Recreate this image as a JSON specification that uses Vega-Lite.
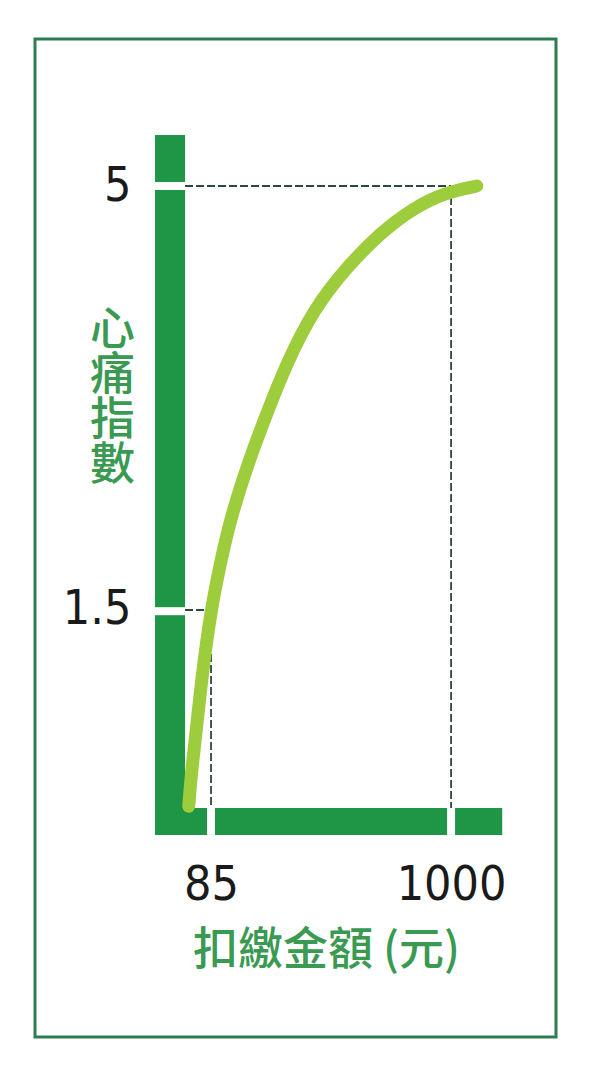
{
  "$schema": "https://vega.github.io/schema/vega-lite/v6.json",
  "width": 521,
  "height": 998,
  "autosize": "none",
  "padding": {"left": 35, "top": 39, "right": 44, "bottom": 35},
  "background": "white",
  "datasets": {
    "curve": [
      {"amount": 0, "pain": -0.12},
      {"amount": 11, "pain": 0.18},
      {"amount": 33, "pain": 0.59},
      {"amount": 53, "pain": 1.0},
      {"amount": 85, "pain": 1.5},
      {"amount": 117, "pain": 1.85},
      {"amount": 157, "pain": 2.24},
      {"amount": 227, "pain": 2.72},
      {"amount": 297, "pain": 3.12},
      {"amount": 374, "pain": 3.54},
      {"amount": 475, "pain": 3.98},
      {"amount": 602, "pain": 4.33},
      {"amount": 729, "pain": 4.61},
      {"amount": 856, "pain": 4.82},
      {"amount": 984, "pain": 4.95},
      {"amount": 1098, "pain": 5.0}
    ],
    "bars": [
      {"amount": -128.5, "amount2": -14.1, "pain": -0.357, "pain2": 5.42},
      {"amount": -128.5, "amount2": 1195, "pain": -0.357, "pain2": -0.134}
    ],
    "gaps": [
      {"amount": -128.5, "amount2": -14.1, "pain": 5, "pain2": 5},
      {"amount": -128.5, "amount2": -14.1, "pain": 1.49, "pain2": 1.49},
      {"amount": 85, "amount2": 85, "pain": -0.134, "pain2": -0.357},
      {"amount": 1000, "amount2": 1000, "pain": -0.134, "pain2": -0.357}
    ],
    "guides": [
      {"amount": -14.1, "amount2": 1000, "pain": 5, "pain2": 5},
      {"amount": 1000, "amount2": 1000, "pain": 5, "pain2": -0.134},
      {"amount": -14.1, "amount2": 85, "pain": 1.5, "pain2": 1.5},
      {"amount": 85, "amount2": 85, "pain": 1.5, "pain2": -0.134}
    ]
  },
  "layer": [
    {
      "data": {"name": "bars"},
      "mark": {"type": "rect", "color": "#1f9646"},
      "encoding": {
        "x": {"field": "amount", "type": "quantitative"},
        "x2": {"field": "amount2"},
        "y": {"field": "pain", "type": "quantitative"},
        "y2": {"field": "pain2"}
      }
    },
    {
      "data": {"name": "gaps"},
      "mark": {"type": "rule", "color": "white", "strokeWidth": 8},
      "encoding": {
        "x": {"field": "amount", "type": "quantitative"},
        "x2": {"field": "amount2"},
        "y": {"field": "pain", "type": "quantitative"},
        "y2": {"field": "pain2"}
      }
    },
    {
      "data": {"name": "guides"},
      "mark": {"type": "rule", "color": "#2c4a3a", "strokeWidth": 1.8, "strokeDash": [8, 3]},
      "encoding": {
        "x": {"field": "amount", "type": "quantitative"},
        "x2": {"field": "amount2"},
        "y": {"field": "pain", "type": "quantitative"},
        "y2": {"field": "pain2"}
      }
    },
    {
      "data": {"name": "curve"},
      "mark": {"type": "line", "color": "#9dcc3c", "strokeWidth": 13, "strokeCap": "round", "interpolate": "basis"},
      "encoding": {
        "x": {
          "field": "amount",
          "type": "quantitative",
          "scale": {"domain": [-586, 1400], "nice": false, "zero": false},
          "axis": {
            "values": [85, 1000],
            "labelExpr": "datum.value + ''",
            "offset": -215.5,
            "domain": false,
            "ticks": false,
            "tickSize": 0,
            "grid": false,
            "labelPadding": 40,
            "labelFont": "'Liberation Sans Narrow', 'DejaVu Sans Condensed', sans-serif",
            "labelFontSize": 48,
            "labelColor": "#1a1a1a",
            "labelFlush": false,
            "labelOverlap": false,
            "title": "扣繳金額 (元)",
            "titleFont": "Noto Sans CJK TC",
            "titleFontSize": 45,
            "titleFontWeight": 500,
            "titleColor": "#3a9a52",
            "titleX": 291,
            "titleY": 129,
            "titleAlign": "center",
            "titleBaseline": "middle"
          }
        },
        "y": {
          "field": "pain",
          "type": "quantitative",
          "scale": {"domain": [-2.025, 6.2135], "nice": false, "zero": false},
          "axis": {
            "values": [1.5, 5],
            "labelExpr": "datum.value + ''",
            "offset": -135,
            "domain": false,
            "ticks": false,
            "tickSize": 0,
            "grid": false,
            "labelPadding": 39,
            "labelFont": "'Liberation Sans Narrow', 'DejaVu Sans Condensed', sans-serif",
            "labelFontSize": 48,
            "labelColor": "#1a1a1a",
            "labelOverlap": false,
            "title": ["心", "痛", "指", "數"],
            "titleFont": "Noto Sans CJK TC",
            "titleFontSize": 45,
            "titleFontWeight": 500,
            "titleColor": "#3a9a52",
            "titleAngle": 0,
            "titleLineHeight": 45,
            "titleX": -58,
            "titleY": 291,
            "titleAlign": "center",
            "titleBaseline": "middle"
          }
        }
      }
    }
  ],
  "config": {
    "view": {"stroke": "#2e7d50", "strokeWidth": 3}
  }
}
